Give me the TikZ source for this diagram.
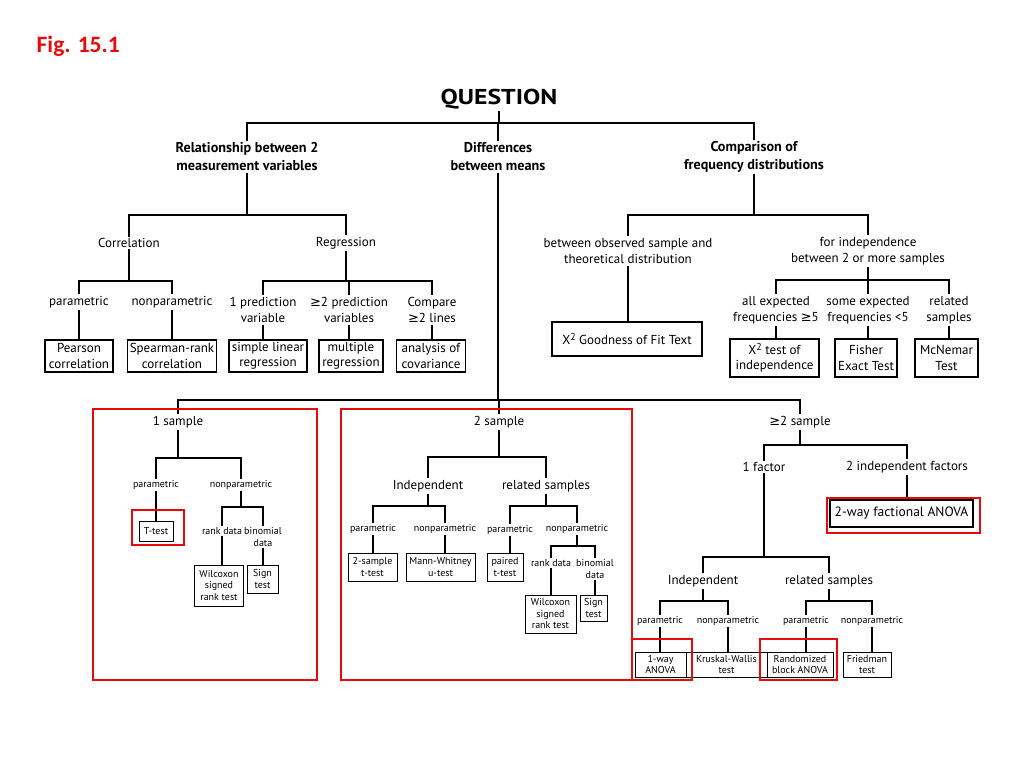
\documentclass[tikz,border=0pt]{standalone}
\usepackage{fontspec}
\setmainfont{PT Sans}
\newfontfamily\figfont{Carlito}
\newfontfamily\dejafont{DejaVu Sans}
\newcommand{\geqs}{{\dejafont\char"2265}}
\newcommand{\chisq}{X\raisebox{0.55ex}{\fontsize{10}{10}\selectfont 2}}
\definecolor{hired}{RGB}{232,10,10}
\newcommand{\fork}[4]{%
  \draw[line] (#1.south) -- (#1.south |- 0,#2);
  \draw[line] (#3.north) |- (#4.north |- 0,#2) -- (#4.north);}
\newcommand{\link}[2]{\draw[line] (#1.south) -- (#1.south |- #2.north);}

\begin{document}
\begin{tikzpicture}[x=1pt,y=-1pt,
  every node/.style={inner sep=1.5pt,align=center},
  line/.style={line width=1.3pt},
  head/.style={font=\bfseries\fontsize{14.2}{18}\selectfont},
  lab/.style={font=\fontsize{13}{16.5}\selectfont},
  mlab/.style={font=\fontsize{13}{15}\selectfont},
  slab/.style={font=\fontsize{10}{12}\selectfont},
  box/.style 2 args={draw,line width=1.2pt,inner sep=0pt,minimum width=#1pt,minimum height=#2pt,font=\fontsize{13}{15.5}\selectfont},
  mbox/.style 2 args={box={#1}{#2},font=\fontsize{13.5}{15}\selectfont},
  sbox/.style 2 args={draw,line width=0.9pt,inner sep=0pt,minimum width=#1pt,minimum height=#2pt,font=\fontsize{10}{11.5}\selectfont},
  hilite/.style={draw=hired,line width=2.8pt}]
\useasboundingbox[fill=white] (0,0) rectangle (1024,768);

\node[font=\figfont\bfseries\fontsize{23.5}{26}\selectfont,text=hired,anchor=west] (fig) at (35,46) {Fig. 15.1};
\node[font=\bfseries\fontsize{21.5}{26}\selectfont] (q) at (499,99) {\scalebox{1.2}[1]{QUESTION}};
\node[head] (rel) at (247,157) {Relationship between 2\\measurement variables};
\node[head] (dif) at (498,157) {Differences\\between means};
\node[head] (cmp) at (754,157) {Comparison of\\frequency distributions};

\node[lab] (cor) at (129,243) {Correlation};
\node[lab] (reg) at (346,243) {Regression};
\node[lab] (par1) at (79,302) {parametric};
\node[lab] (npar1) at (172,302) {nonparametric};
\node[box={68}{32}] (pear) at (79,356) {Pearson\\correlation};
\node[box={89}{32}] (spear) at (172,356) {Spearman-rank\\correlation};
\node[lab] (pred1) at (263,310) {1 prediction\\variable};
\node[lab] (pred2) at (349,310) {\geqs2 prediction\\variables};
\node[lab] (cmpl) at (432,310) {Compare\\\geqs2 lines};
\node[box={78}{32}] (slr) at (268,356) {simple linear\\regression};
\node[box={64}{32}] (mult) at (351,356) {multiple\\regression};
\node[box={69}{32}] (anc) at (431,356) {analysis of\\covariance};

\node[lab] (obs) at (628,251) {between observed sample and\\theoretical distribution};
\node[lab] (indep) at (868,251) {for independence\\between 2 or more samples};
\node[box={150}{34}] (gof) at (627,339) {\chisq{} Goodness of Fit Text};
\node[lab] (allx) at (776,310) {all expected\\frequencies \geqs5};
\node[lab] (somex) at (868,310) {some expected\\frequencies <5};
\node[lab] (relx) at (949,310) {related\\samples};
\node[box={89}{38}] (chi) at (774.5,358) {\chisq{} test of\\independence};
\node[box={62}{38}] (fish) at (866,358) {Fisher\\Exact Test};
\node[box={63}{38}] (mcn) at (946.5,358) {McNemar\\Test};

\node[mlab] (s1) at (178,422) {1 sample};
\node[mlab] (s2) at (499,422) {2 sample};
\node[mlab] (s3) at (800,422) {\geqs2 sample};

\node[slab] (par1s) at (156,485) {parametric};
\node[slab] (npar1s) at (241,485) {nonparametric};
\node[sbox={34}{20}] (ttest) at (156,531) {T-test};
\node[slab] (rank1) at (222,531) {rank data};
\node[slab] (bin1) at (263,537) {binomial\\data};
\node[sbox={49}{41}] (wil1) at (219,585.5) {Wilcoxon\\signed\\rank test};
\node[sbox={31}{28}] (sign1) at (262.5,579) {Sign\\test};

\node[mlab] (ind2) at (428,486) {Independent};
\node[mlab] (rel2) at (546,486) {related samples};
\node[slab] (par2a) at (373,529) {parametric};
\node[slab] (npar2a) at (445,529) {nonparametric};
\node[sbox={49}{28}] (t2) at (372.5,567) {2-sample\\t-test};
\node[sbox={69}{28}] (mw) at (440.5,567) {Mann-Whitney\\u-test};
\node[slab] (par2b) at (510,530) {parametric};
\node[slab] (npar2b) at (577,529) {nonparametric};
\node[sbox={36}{28}] (pt) at (505,567) {paired\\t-test};
\node[slab] (rank2) at (551,563) {rank data};
\node[slab] (bin2) at (595,569) {binomial\\data};
\node[sbox={51}{38}] (wil2) at (550.5,614) {Wilcoxon\\signed\\rank test};
\node[sbox={27}{26}] (sign2) at (593.5,608) {Sign\\test};

\node[mlab] (f1) at (764,467) {1 factor};
\node[mlab] (f2) at (907,467) {2 independent factors};
\node[mbox={143}{27}] (anova2) at (901.5,513.5) {2-way factional ANOVA};
\node[mlab] (ind3) at (703,581) {Independent};
\node[mlab] (rel3) at (829,581) {related samples};
\node[slab] (par3a) at (660,621) {parametric};
\node[slab] (npar3a) at (728,621) {nonparametric};
\node[slab] (par3b) at (806,621) {parametric};
\node[slab] (npar3b) at (872,621) {nonparametric};
\node[sbox={51}{25}] (anova1) at (660.5,664.5) {1-way\\ANOVA};
\node[sbox={81}{25}] (kw) at (726.5,664.5) {Kruskal-Wallis\\test};
\node[sbox={66}{25}] (rba) at (800,664.5) {Randomized\\block ANOVA};
\node[sbox={48}{25}] (fried) at (867,664.5) {Friedman\\test};

\fork{q}{123}{rel}{cmp}
\draw[line] (dif.north) -- (dif.north |- 0,123);
\fork{rel}{215}{cor}{reg}
\fork{cor}{281}{par1}{npar1}
\fork{reg}{281}{pred1}{cmpl}
\draw[line] (pred2.north) -- (pred2.north |- 0,281);
\link{par1}{pear} \link{npar1}{spear}
\link{pred1}{slr} \link{pred2}{mult} \link{cmpl}{anc}
\fork{cmp}{215}{obs}{indep}
\link{obs}{gof}
\fork{indep}{280}{allx}{relx}
\draw[line] (somex.north) -- (somex.north |- 0,280);
\link{allx}{chi} \link{somex}{fish} \link{relx}{mcn}

\fork{dif}{400}{s1}{s3}
\draw[line] (s2.north) -- (s2.north |- 0,400);
\fork{s1}{458}{par1s}{npar1s}
\link{par1s}{ttest}
\fork{npar1s}{507}{rank1}{bin1}
\link{rank1}{wil1} \link{bin1}{sign1}
\fork{s2}{457}{ind2}{rel2}
\fork{ind2}{506}{par2a}{npar2a}
\link{par2a}{t2} \link{npar2a}{mw}
\fork{rel2}{506}{par2b}{npar2b}
\link{par2b}{pt}
\fork{npar2b}{546}{rank2}{bin2}
\link{rank2}{wil2} \link{bin2}{sign2}
\fork{s3}{445}{f1}{f2}
\link{f2}{anova2}
\fork{f1}{557}{ind3}{rel3}
\fork{ind3}{601}{par3a}{npar3a}
\fork{rel3}{601}{par3b}{npar3b}
\link{par3a}{anova1} \link{npar3a}{kw} \link{par3b}{rba} \link{npar3b}{fried}

\draw[hilite] (93,409) rectangle (317,680);
\draw[hilite] (341,409) rectangle (632,680);
\draw[hilite] (132,510) rectangle (184,545);
\draw[hilite] (827,498) rectangle (980,533);
\draw[hilite] (632,639) rectangle (692,680);
\draw[hilite] (760,639) rectangle (837,680);
\end{tikzpicture}
\end{document}
